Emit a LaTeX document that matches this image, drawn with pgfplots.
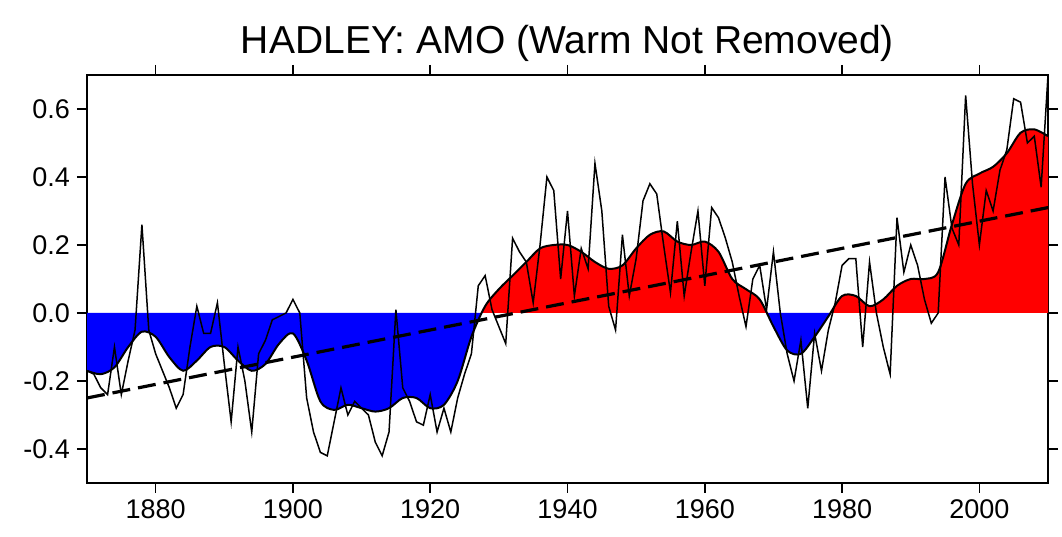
\documentclass[border=0pt]{standalone}
\usepackage{fontspec}
\setmainfont{Liberation Sans}
\usepackage{pgfplots}
\pgfplotsset{compat=1.18}
\usepgfplotslibrary{fillbetween}
\pgfplotstableread{
x y
1870 -0.17
1872 -0.18
1874 -0.16
1876 -0.10
1878 -0.055
1880 -0.07
1882 -0.13
1884 -0.17
1886 -0.14
1888 -0.10
1890 -0.10
1892 -0.14
1894 -0.17
1896 -0.15
1898 -0.09
1900 -0.06
1902 -0.14
1904 -0.26
1906 -0.285
1908 -0.27
1910 -0.28
1912 -0.29
1914 -0.28
1916 -0.25
1918 -0.25
1920 -0.28
1922 -0.27
1924 -0.20
1926 -0.07
1928 0.02
1930 0.07
1932 0.11
1934 0.15
1936 0.19
1938 0.20
1940 0.20
1942 0.18
1944 0.15
1946 0.13
1948 0.14
1950 0.19
1952 0.23
1954 0.24
1956 0.21
1958 0.20
1960 0.21
1962 0.18
1964 0.10
1966 0.07
1968 0.04
1970 -0.04
1972 -0.11
1974 -0.12
1976 -0.07
1978 -0.01
1980 0.05
1982 0.05
1984 0.02
1986 0.04
1988 0.08
1990 0.10
1992 0.10
1994 0.12
1996 0.26
1998 0.38
2000 0.41
2002 0.43
2004 0.47
2006 0.53
2008 0.54
2010 0.52
}\smooth
\pgfplotstableread{
x y
1870 -0.17
1871 -0.18
1872 -0.22
1873 -0.24
1874 -0.10
1875 -0.24
1876 -0.14
1877 -0.05
1878 0.26
1879 -0.05
1880 -0.12
1881 -0.17
1882 -0.22
1883 -0.28
1884 -0.24
1885 -0.10
1886 0.02
1887 -0.06
1888 -0.06
1889 0.03
1890 -0.15
1891 -0.32
1892 -0.10
1893 -0.20
1894 -0.35
1895 -0.12
1896 -0.08
1897 -0.02
1898 -0.01
1899 0.00
1900 0.04
1901 0.00
1902 -0.25
1903 -0.35
1904 -0.41
1905 -0.42
1906 -0.32
1907 -0.22
1908 -0.30
1909 -0.26
1910 -0.28
1911 -0.30
1912 -0.38
1913 -0.42
1914 -0.35
1915 0.01
1916 -0.22
1917 -0.26
1918 -0.32
1919 -0.33
1920 -0.24
1921 -0.35
1922 -0.28
1923 -0.35
1924 -0.25
1925 -0.18
1926 -0.12
1927 0.08
1928 0.11
1929 0.01
1930 -0.04
1931 -0.09
1932 0.22
1933 0.18
1934 0.15
1935 0.03
1936 0.20
1937 0.40
1938 0.36
1939 0.10
1940 0.30
1941 0.05
1942 0.19
1943 0.13
1944 0.44
1945 0.30
1946 0.02
1947 -0.05
1948 0.23
1949 0.05
1950 0.16
1951 0.33
1952 0.38
1953 0.35
1954 0.20
1955 0.06
1956 0.27
1957 0.05
1958 0.18
1959 0.30
1960 0.08
1961 0.31
1962 0.28
1963 0.22
1964 0.15
1965 0.05
1966 -0.04
1967 0.10
1968 0.14
1969 0.01
1970 0.18
1971 0.00
1972 -0.12
1973 -0.20
1974 -0.08
1975 -0.28
1976 -0.06
1977 -0.17
1978 -0.05
1979 0.03
1980 0.14
1981 0.16
1982 0.16
1983 -0.10
1984 0.15
1985 0.00
1986 -0.10
1987 -0.18
1988 0.28
1989 0.12
1990 0.20
1991 0.14
1992 0.04
1993 -0.03
1994 0.00
1995 0.40
1996 0.25
1997 0.20
1998 0.64
1999 0.38
2000 0.20
2001 0.36
2002 0.30
2003 0.42
2004 0.48
2005 0.63
2006 0.62
2007 0.50
2008 0.52
2009 0.37
2010 0.70
}\annual
\begin{document}
\begin{tikzpicture}
\begin{axis}[
  scale only axis, width=480.5pt, height=204pt,
  xmin=1870, xmax=2010, ymin=-0.5, ymax=0.7,
  xtick={1880,1900,...,2000}, ytick={-0.4,-0.2,...,0.6},
  yticklabel style={/pgf/number format/fixed,/pgf/number format/fixed zerofill,/pgf/number format/precision=1},
  /pgf/number format/assume math mode=true,
  xticklabel style={/pgf/number format/1000 sep={}},
  tick align=outside, major tick length=5pt,
  tick style={line width=0.8pt,black},
  axis line style={line width=0.8pt},
  ticklabel style={font=\fontsize{13.5}{15}\selectfont},
  title={HADLEY: AMO (Warm Not Removed)},
  title style={font=\fontsize{19.5}{22}\selectfont, yshift=-3pt},
  clip=true,
]
\coordinate (ll) at (rel axis cs:0,0);
\coordinate (ur) at (rel axis cs:1,1);
\addplot[name path=s, draw=none, smooth] table {\smooth};
\addplot[name path=z, draw=none] coordinates {(1870,0) (2010,0)};
\addplot[draw=none] fill between[of=s and z, split,
   every even segment/.style={fill=blue}, every odd segment/.style={fill=red}];
\addplot[black, line width=1pt, smooth] table {\smooth};
\addplot[black, line width=0.75pt] table {\annual};
\addplot[black, line width=1.6pt, dash pattern=on 9pt off 4pt] coordinates {(1870,-0.25) (2010,0.31)};
\end{axis}
\useasboundingbox (ll) ++(-43.5pt,-27pt) rectangle ([xshift=7pt,yshift=37.5pt]ur);
\end{tikzpicture}
\end{document}
